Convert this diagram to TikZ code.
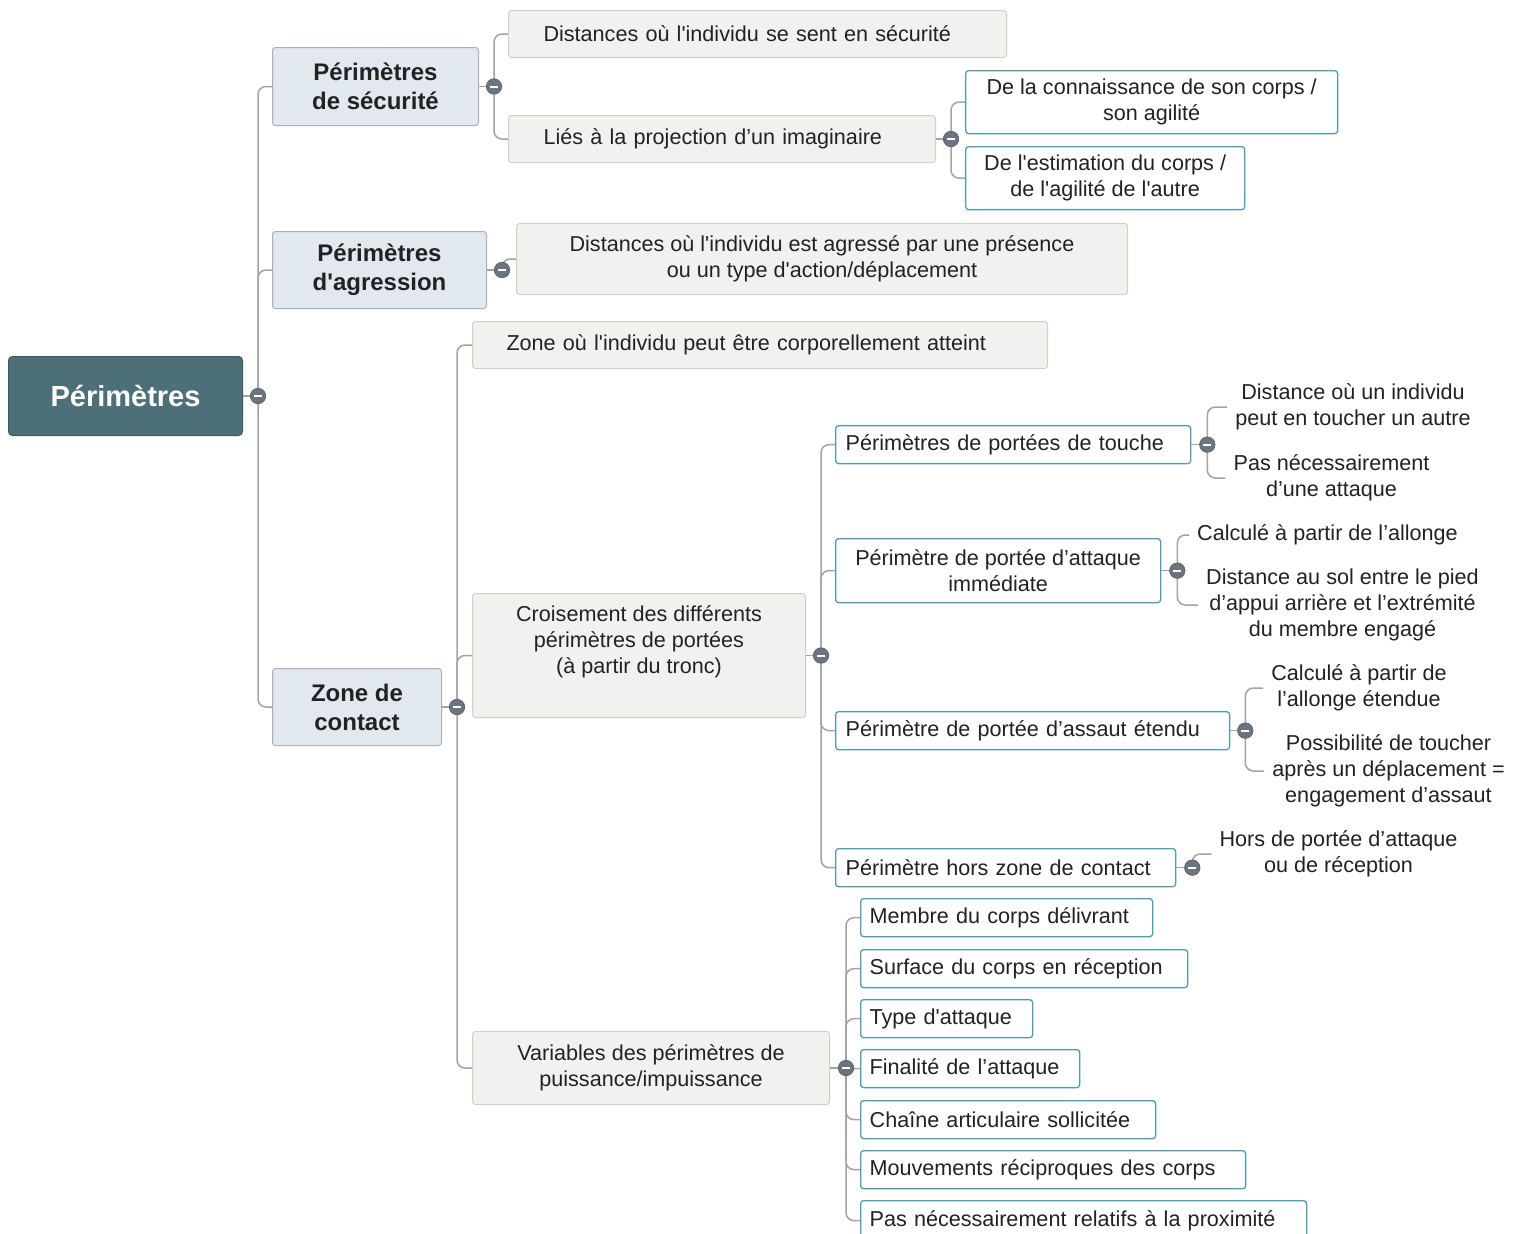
\documentclass[tikz,border=0pt]{standalone}
\usepackage{fontspec}
\setmainfont{Liberation Sans}
\newcommand\stq{\textquotesingle}
\definecolor{textc}{HTML}{222222}
\definecolor{rootF}{HTML}{4D7078}
\definecolor{rootB}{HTML}{3E5A60}
\definecolor{lvF}{HTML}{E2E8F0}
\definecolor{lvB}{HTML}{A5B0BC}
\definecolor{grF}{HTML}{F1F1EF}
\definecolor{grB}{HTML}{D3D0C0}
\definecolor{whB}{HTML}{4B9DB8}
\definecolor{connC}{HTML}{A3A3A3}
\definecolor{collF}{HTML}{6C7480}
\begin{document}
\begin{tikzpicture}[x=1pt,y=-1pt,
  txt/.style={font=\fontsize{21.6}{26}\selectfont, text=textc},
  rootbox/.style={draw=rootB, fill=rootF, rounded corners=4pt, line width=1pt,
    minimum width=234pt, minimum height=79pt, inner sep=0pt,
    font=\fontsize{29}{34}\selectfont\bfseries, text=white, anchor=north west},
  lvbox/.style={draw=lvB, fill=lvF, rounded corners=3pt, line width=1pt, inner sep=0pt,
    align=center, font=\fontsize{24}{29}\selectfont\bfseries, text=textc, anchor=north west},
  grbox/.style={txt, draw=grB, fill=grF, rounded corners=3pt, line width=1pt,
    inner ysep=0pt, anchor=north west},
  whbox/.style={txt, draw=whB, fill=white, rounded corners=3pt, line width=1.3pt,
    inner ysep=0pt, anchor=north west},
  plain/.style={txt, align=center, inner xsep=8pt, inner ysep=2pt},
  conn/.style={draw=connC, line width=1.5pt, rounded corners=8pt},
  coll/.style={circle, fill=collF, draw=collF!80!black, line width=0.6pt,
    minimum size=15.5pt, inner sep=0pt,
    path picture={\draw[white, line width=2pt]
      ([xshift=-4pt]path picture bounding box.center) --
      ([xshift=4pt]path picture bounding box.center);}}
]
\useasboundingbox[fill=white] (0,0) rectangle (1521,1234);

% ---------- root ----------
\node[rootbox] (root) at (8,356) {Périmètres};

% ---------- level 1 ----------
\node[lvbox, minimum width=206pt, minimum height=78pt] (ps) at (272,47) {Périmètres\\de sécurité};
\node[lvbox, minimum width=214pt, minimum height=77pt] (pa) at (272,231) {Périmètres\\d\stq agression};
\node[lvbox, minimum width=169pt, minimum height=77pt] (zc) at (272,668) {Zone de\\contact};

% ---------- level 2 (grey) ----------
\node[grbox, text width=428pt, inner xsep=35pt, minimum height=47pt, align=left] (d1) at (508,10)
  {Distances où l\stq individu se sent en sécurité};
\node[grbox, text width=357pt, inner xsep=35pt, minimum height=47pt, align=left] (d2) at (508,115)
  {Liés à la projection d’un imaginaire};
\node[grbox, minimum width=611pt, minimum height=71pt, align=center, inner xsep=6pt] (pa1) at (516,223)
  {Distances où l\stq individu est agressé par une présence\\ou un type d\stq action/déplacement};
\node[grbox, text width=507pt, inner xsep=34pt, minimum height=47pt, align=left] (z1) at (472,321)
  {Zone où l\stq individu peut être corporellement atteint};
\node[grbox, minimum width=333pt, inner sep=0pt] (cr) at (472,593)
  {\parbox[c][124pt][c]{321pt}{\centering Croisement des différents\\périmètres de portées\\(à partir du tronc)\par\vspace{28pt}}};
\node[grbox, minimum width=357pt, minimum height=73pt, align=center, inner xsep=6pt] (var) at (472,1031)
  {Variables des périmètres de\\puissance/impuissance};

% ---------- white boxes ----------
\node[whbox, minimum width=372pt, minimum height=63pt, align=center, inner xsep=6pt] (w1) at (965,70)
  {De la connaissance de son corps /\\son agilité};
\node[whbox, minimum width=279pt, minimum height=63pt, align=center, inner xsep=6pt] (w2) at (965,146)
  {De l\stq estimation du corps /\\de l\stq agilité de l\stq autre};

\node[whbox, text width=335pt, inner xsep=10pt, minimum height=38pt, align=left] (tou) at (835,425)
  {Périmètres de portées de touche};
\node[whbox, minimum width=325pt, minimum height=64pt, align=center, inner xsep=6pt] (att) at (835,538)
  {Périmètre de portée d’attaque\\immédiate};
\node[whbox, text width=374pt, inner xsep=10pt, minimum height=38pt, align=left] (ass) at (835,711)
  {Périmètre de portée d’assaut étendu};
\node[whbox, text width=320pt, inner xsep=10pt, minimum height=38pt, align=left] (hor) at (835,848)
  {Périmètre hors zone de contact};

\node[whbox, text width=274pt, inner xsep=9pt, minimum height=38pt, align=left] (v1) at (860,898)
  {Membre du corps délivrant};
\node[whbox, text width=309pt, inner xsep=9pt, minimum height=38pt, align=left] (v2) at (860,949)
  {Surface du corps en réception};
\node[whbox, text width=154pt, inner xsep=9pt, minimum height=38pt, align=left] (v3) at (860,999)
  {Type d\stq attaque};
\node[whbox, text width=201pt, inner xsep=9pt, minimum height=38pt, align=left] (v4) at (860,1049)
  {Finalité de l’attaque};
\node[whbox, text width=277pt, inner xsep=9pt, minimum height=38pt, align=left] (v5) at (860,1100)
  {Chaîne articulaire sollicitée};
\node[whbox, text width=367pt, inner xsep=9pt, minimum height=38pt, align=left] (v6) at (860,1150)
  {Mouvements réciproques des corps};
\node[whbox, text width=428pt, inner xsep=9pt, minimum height=40pt, align=left] (v7) at (860,1200)
  {Pas nécessairement relatifs à la proximité};

% ---------- plain text leaves ----------
\node[plain] (t1) at (1353,407) {Distance où un individu\\peut en toucher un autre};
\node[plain] (t2) at (1331.5,478) {Pas nécessairement\\d’une attaque};
\node[plain] (t3) at (1327.5,535) {Calculé à partir de l’allonge};
\node[plain] (t4) at (1342.5,605) {Distance au sol entre le pied\\d’appui arrière et l’extrémité\\du membre engagé};
\node[plain] (t5) at (1359,688) {Calculé à partir de\\l’allonge étendue};
\node[plain] (t6) at (1388.5,771) {Possibilité de toucher\\après un déplacement =\\engagement d’assaut};
\node[plain] (t7) at (1338.5,854) {Hors de portée d’attaque\\ou de réception};

% ---------- collapse points ----------
\coordinate (kroot) at ([xshift=15pt]root.east);
\coordinate (kps) at ([xshift=15pt]ps.east);
\coordinate (kpa) at ([xshift=15pt]pa.east);
\coordinate (kzc) at ([xshift=15pt]zc.east);
\coordinate (kd2) at ([xshift=15pt]d2.east);
\coordinate (kcr) at ([xshift=15pt]cr.east);
\coordinate (kvar) at ([xshift=16pt]var.east);
\coordinate (ktou) at ([xshift=16pt]tou.east);
\coordinate (katt) at ([xshift=16pt]att.east);
\coordinate (kass) at ([xshift=15pt]ass.east);
\coordinate (khor) at ([xshift=16pt]hor.east);

% ---------- connectors ----------
\draw[conn] (root.east) -- (kroot);
\foreach \c in {ps,pa,zc} \draw[conn] (kroot) |- (\c.west);
\draw[conn] (ps.east) -- (kps);
\foreach \c in {d1,d2} \draw[conn] (kps) |- (\c.west);
\draw[conn] (pa.east) -- (kpa);
\draw[conn] (kpa) |- (pa1.west);
\draw[conn] (zc.east) -- (kzc);
\foreach \c in {z1,cr,var} \draw[conn] (kzc) |- (\c.west);
\draw[conn] (d2.east) -- (kd2);
\foreach \c in {w1,w2} \draw[conn] (kd2) |- (\c.west);
\draw[conn] (cr.east) -- (kcr);
\foreach \c in {tou,att,ass,hor} \draw[conn] (kcr) |- (\c.west);
\draw[conn] (var.east) -- (kvar);
\foreach \c in {v1,v2,v3,v4,v5,v6,v7} \draw[conn] (kvar) |- (\c.west);
\draw[conn] (tou.east) -- (ktou);
\foreach \c in {t1,t2} \draw[conn] (ktou) |- (\c.west);
\draw[conn] (att.east) -- (katt);
\foreach \c in {t3,t4} \draw[conn] (katt) |- (\c.west);
\draw[conn] (ass.east) -- (kass);
\foreach \c in {t5,t6} \draw[conn] (kass) |- (\c.west);
\draw[conn] (hor.east) -- (khor);
\draw[conn] (khor) |- (t7.west);

% ---------- collapse circles on top ----------
\foreach \k in {kroot,kps,kpa,kzc,kd2,kcr,kvar,ktou,katt,kass,khor}
  \node[coll] (c\k) at (\k) {};
\end{tikzpicture}
\end{document}
